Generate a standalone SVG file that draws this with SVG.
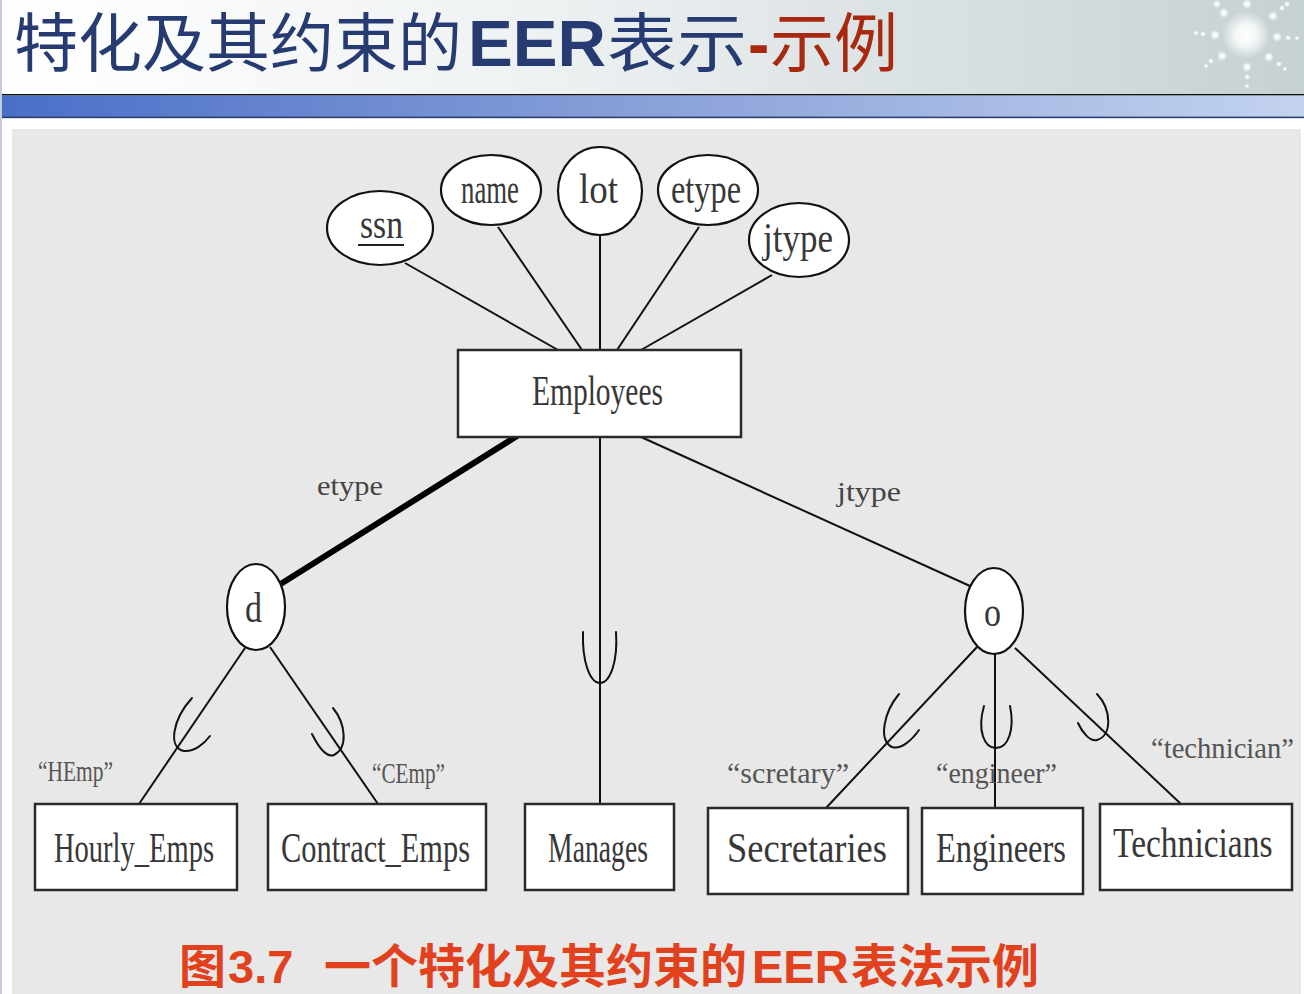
<svg xmlns="http://www.w3.org/2000/svg" width="1304" height="994" viewBox="0 0 1304 994">
  <defs>
    <linearGradient id="hdr" x1="0" y1="0" x2="1" y2="0">
      <stop offset="0" stop-color="#ffffff"/>
      <stop offset="0.4" stop-color="#eff2f3"/>
      <stop offset="1" stop-color="#c6d1d4"/>
    </linearGradient>
    <linearGradient id="band" x1="0" y1="0" x2="1" y2="0">
      <stop offset="0" stop-color="#4a6fc8"/>
      <stop offset="0.5" stop-color="#8aa1d9"/>
      <stop offset="1" stop-color="#c3d3ef"/>
    </linearGradient>
    <radialGradient id="glow">
      <stop offset="0" stop-color="#ffffff" stop-opacity="1"/>
      <stop offset="0.45" stop-color="#ffffff" stop-opacity="0.8"/>
      <stop offset="1" stop-color="#ffffff" stop-opacity="0"/>
    </radialGradient>
    <style>
      .ln { stroke: #111; stroke-width: 2; fill: none; }
      .cup { stroke: #111; stroke-width: 2; fill: none; stroke-linecap: round; }
      .box { fill: #fff; stroke: #2a2a2a; stroke-width: 2.5; }
      .ell { fill: #fff; stroke: #111; stroke-width: 2.2; }
      .lbl { font-family: "Liberation Serif", serif; font-size: 42px; fill: #383838; }
      .edge { font-family: "Liberation Serif", serif; font-size: 28px; fill: #444; }
      .q { font-family: "Liberation Serif", serif; font-size: 30px; fill: #555; }
      .title { font-family: "Liberation Sans", "Noto Sans CJK SC", sans-serif; font-size: 64px; fill: #263b72; }
      .cap { font-family: "Liberation Sans", "Noto Sans CJK SC", sans-serif; font-size: 47px; font-weight: bold; fill: #e2411d; }
      .dot { fill: url(#glow); }
    </style>
  </defs>

  <!-- page header -->
  <rect x="0" y="0" width="1304" height="994" fill="#ffffff"/>
  <rect x="0" y="0" width="1304" height="95" fill="url(#hdr)"/>
  <g id="sparkle">
    <circle class="dot" cx="1246" cy="35" r="24"/>
    <circle class="dot" cx="1217" cy="4" r="4"/>
    <circle class="dot" cx="1247" cy="4" r="5"/>
    <circle class="dot" cx="1287" cy="4" r="3"/>
    <circle class="dot" cx="1224" cy="13" r="5"/>
    <circle class="dot" cx="1273" cy="16" r="5"/>
    <circle class="dot" cx="1282" cy="8" r="3"/>
    <circle class="dot" cx="1196" cy="33" r="2.5"/>
    <circle class="dot" cx="1203" cy="34" r="3"/>
    <circle class="dot" cx="1215" cy="35" r="5"/>
    <circle class="dot" cx="1277" cy="37" r="5"/>
    <circle class="dot" cx="1288" cy="38" r="3"/>
    <circle class="dot" cx="1297" cy="38" r="2.5"/>
    <circle class="dot" cx="1222" cy="56" r="5"/>
    <circle class="dot" cx="1211" cy="61" r="3"/>
    <circle class="dot" cx="1206" cy="66" r="2.5"/>
    <circle class="dot" cx="1269" cy="57" r="5"/>
    <circle class="dot" cx="1279" cy="64" r="3"/>
    <circle class="dot" cx="1285" cy="69" r="2.5"/>
    <circle class="dot" cx="1247" cy="67" r="5"/>
    <circle class="dot" cx="1247" cy="77" r="3"/>
    <circle class="dot" cx="1247" cy="86" r="2.5"/>
  </g>
  <rect x="0" y="94" width="1304" height="1.6" fill="#111"/>
  <rect x="0" y="95.6" width="1304" height="22" fill="url(#band)"/>
  <rect x="0" y="116.6" width="1304" height="1.6" fill="#2c3f6e"/>
  <rect x="0" y="0" width="2" height="994" fill="#c4cbdc"/>

  <text class="title" y="66"><tspan x="14">特化及其约束的</tspan><tspan x="468" font-weight="bold" textLength="138" lengthAdjust="spacingAndGlyphs">EER</tspan><tspan x="607" textLength="140" lengthAdjust="spacingAndGlyphs">表示</tspan><tspan x="748" fill="#a8290f" font-weight="bold">-</tspan><tspan x="770" fill="#a8290f">示例</tspan></text>

  <!-- drawing panel -->
  <rect x="12" y="129" width="1289" height="865" fill="#e8e8e8"/>

  <!-- connectors -->
  <g id="connectors">
    <line class="ln" x1="405" y1="263" x2="558" y2="350"/>
    <line class="ln" x1="498" y1="227" x2="582" y2="350"/>
    <line class="ln" x1="600" y1="235" x2="600" y2="350"/>
    <line class="ln" x1="699" y1="227" x2="617" y2="350"/>
    <line class="ln" x1="772" y1="275" x2="641" y2="350"/>
    <line x1="517" y1="436" x2="279" y2="585" stroke="#000" stroke-width="6" stroke-linecap="round"/>
    <line class="ln" x1="600" y1="437" x2="600" y2="804"/>
    <line class="ln" x1="641" y1="437" x2="970" y2="586"/>
    <line class="ln" x1="245" y1="648" x2="139" y2="804"/>
    <line class="ln" x1="270" y1="647" x2="378" y2="804"/>
    <line class="ln" x1="977" y1="647" x2="826" y2="808"/>
    <line class="ln" x1="995" y1="654" x2="995" y2="808"/>
    <line class="ln" x1="1015" y1="648" x2="1181" y2="804"/>
    <!-- subset marks -->
    <path class="cup" d="M192,698 C172,720 168,748 184,751 C194,752 204,744 210,736"/>
    <path class="cup" d="M333,708 C346,724 348,748 334,755 C326,758 318,746 312,734"/>
    <path class="cup" d="M583,632 C582,662 590,683 600,683 C610,683 618,662 616,632"/>
    <path class="cup" d="M899,694 C884,712 878,740 892,747 C901,750 912,740 919,730"/>
    <path class="cup" d="M984,706 C977,730 984,748 996,748 C1008,748 1015,730 1010,706"/>
    <path class="cup" d="M1097,694 C1112,710 1112,736 1097,740 C1090,742 1082,732 1078,723"/>
    <!-- connector labels -->
    <text class="edge" x="317" y="495" textLength="66" lengthAdjust="spacingAndGlyphs">etype</text>
    <text class="edge" x="837" y="501" textLength="64" lengthAdjust="spacingAndGlyphs">jtype</text>
    <text class="q" x="38" y="781" textLength="75" lengthAdjust="spacingAndGlyphs">“HEmp”</text>
    <text class="q" x="372" y="783" textLength="73" lengthAdjust="spacingAndGlyphs">“CEmp”</text>
    <text class="q" x="727" y="783" textLength="122" lengthAdjust="spacingAndGlyphs">“scretary”</text>
    <text class="q" x="936" y="783" textLength="121" lengthAdjust="spacingAndGlyphs">“engineer”</text>
    <text class="q" x="1151" y="758" textLength="143" lengthAdjust="spacingAndGlyphs">“technician”</text>
  </g>

  <!-- attributes -->
  <g id="attr-ssn">
    <ellipse class="ell" cx="380" cy="228" rx="53" ry="37"/>
    <text class="lbl" x="360" y="238" textLength="43" lengthAdjust="spacingAndGlyphs">ssn</text>
    <line x1="358" y1="245" x2="404" y2="245" stroke="#222" stroke-width="2"/>
  </g>
  <g id="attr-name">
    <ellipse class="ell" cx="491" cy="190" rx="50" ry="35"/>
    <text class="lbl" x="461" y="203" textLength="58" lengthAdjust="spacingAndGlyphs">name</text>
  </g>
  <g id="attr-lot">
    <ellipse class="ell" cx="600" cy="191" rx="42" ry="44"/>
    <text class="lbl" x="579" y="203" textLength="39" lengthAdjust="spacingAndGlyphs">lot</text>
  </g>
  <g id="attr-etype">
    <ellipse class="ell" cx="708" cy="190" rx="50" ry="35"/>
    <text class="lbl" x="671" y="203" textLength="70" lengthAdjust="spacingAndGlyphs">etype</text>
  </g>
  <g id="attr-jtype">
    <ellipse class="ell" cx="799" cy="240" rx="50" ry="37"/>
    <text class="lbl" x="763" y="252" textLength="70" lengthAdjust="spacingAndGlyphs">jtype</text>
  </g>

  <!-- entities -->
  <g id="employees">
    <rect class="box" x="458" y="350" width="283" height="87"/>
    <text class="lbl" x="532" y="405" textLength="131" lengthAdjust="spacingAndGlyphs">Employees</text>
  </g>

  <!-- specialization circles -->
  <g id="spec-d">
    <ellipse class="ell" cx="256" cy="607" rx="29" ry="43"/>
    <text class="lbl" x="245" y="622" font-size="38" textLength="17" lengthAdjust="spacingAndGlyphs">d</text>
  </g>
  <g id="spec-o">
    <ellipse class="ell" cx="994" cy="611" rx="29" ry="43"/>
    <text class="lbl" x="984" y="626" font-size="50" textLength="17" lengthAdjust="spacingAndGlyphs">o</text>
  </g>

  <!-- subclasses -->
  <g id="hourly-emps">
    <rect class="box" x="35" y="804" width="202" height="86"/>
    <text class="lbl" x="54" y="862" textLength="160" lengthAdjust="spacingAndGlyphs">Hourly_Emps</text>
  </g>
  <g id="contract-emps">
    <rect class="box" x="268" y="804" width="218" height="86"/>
    <text class="lbl" x="281" y="862" textLength="189" lengthAdjust="spacingAndGlyphs">Contract_Emps</text>
  </g>
  <g id="manages">
    <rect class="box" x="525" y="804" width="149" height="86"/>
    <text class="lbl" x="548" y="862" textLength="100" lengthAdjust="spacingAndGlyphs">Manages</text>
  </g>
  <g id="secretaries">
    <rect class="box" x="708" y="808" width="200" height="86"/>
    <text class="lbl" x="727" y="862" textLength="160" lengthAdjust="spacingAndGlyphs">Secretaries</text>
  </g>
  <g id="engineers">
    <rect class="box" x="922" y="808" width="161" height="86"/>
    <text class="lbl" x="936" y="862" textLength="130" lengthAdjust="spacingAndGlyphs">Engineers</text>
  </g>
  <g id="technicians">
    <rect class="box" x="1100" y="804" width="192" height="86"/>
    <text class="lbl" transform="translate(1113 857) scale(0.798 1)" x="0" y="0">Technicians</text>
  </g>

  <!-- figure caption -->
  <text class="cap" y="983"><tspan x="179">图</tspan><tspan x="228">3.7</tspan><tspan x="324">一个特化及其约束的</tspan><tspan x="752">EER</tspan><tspan x="851">表法示例</tspan></text>
</svg>
